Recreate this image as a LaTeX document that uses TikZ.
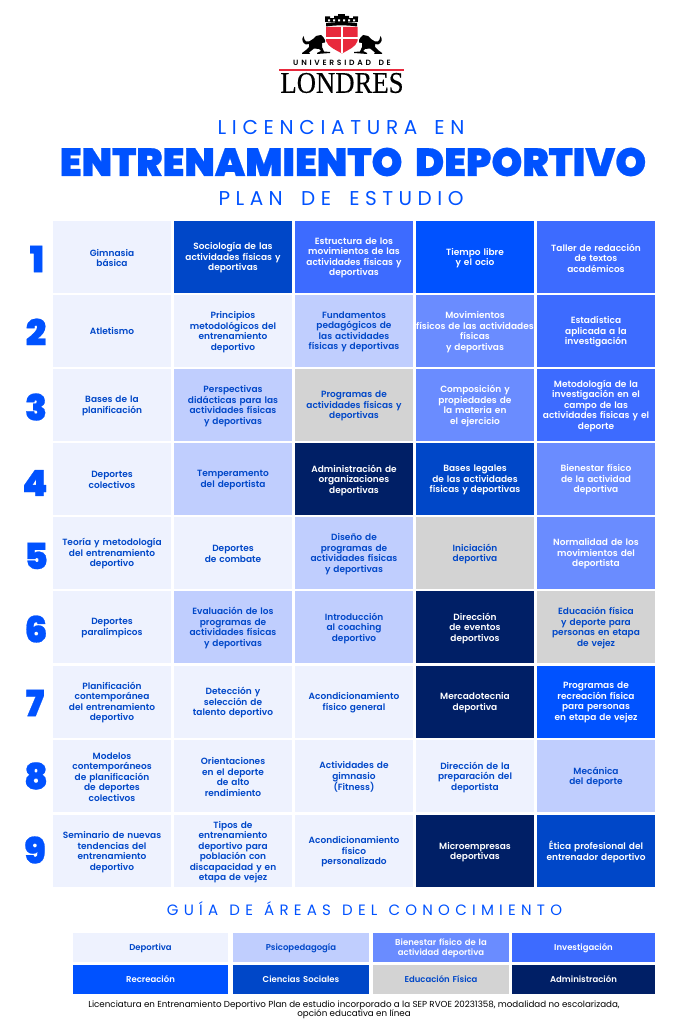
\documentclass[tikz,border=0pt]{standalone}
\usepackage{fontspec}
\setmainfont{Poppins}
\newfontfamily\popblack[FakeBold=0.6]{Poppins Black}
\newfontfamily\popsemi{Poppins SemiBold}
\newfontfamily\popmed{Poppins Medium}
\newfontfamily\lonserif[FakeBold=0.4]{Liberation Serif}
\definecolor{cLight}{HTML}{EEF2FE}
\definecolor{cPsico}{HTML}{C0CEFE}
\definecolor{cBien}{HTML}{6A8CFF}
\definecolor{cInv}{HTML}{3D6BFF}
\definecolor{cRec}{HTML}{0052FF}
\definecolor{cSoc}{HTML}{0047C8}
\definecolor{cAdm}{HTML}{001F66}
\definecolor{cGray}{HTML}{D3D3D3}
\definecolor{cRed}{HTML}{E8293C}
\tikzset{
 cellbase/.style={inner sep=0pt,align=center,minimum width=118pt,minimum height=72pt,text width=118pt,font=\popsemi\fontsize{9.0}{10.5}\selectfont,execute at end node={\par\vspace{-2pt}}},
 deplight/.style={cellbase,fill=cLight,text=cSoc},
 psico/.style={cellbase,fill=cPsico,text=cSoc},
 bien/.style={cellbase,fill=cBien,text=white},
 inv/.style={cellbase,fill=cInv,text=white},
 rec/.style={cellbase,fill=cRec,text=white},
 soc/.style={cellbase,fill=cSoc,text=white},
 adm/.style={cellbase,fill=cAdm,text=white},
 gris/.style={cellbase,fill=cGray,text=cSoc},
 rownum/.style={text=cRec,font=\popblack\fontsize{36}{36}\selectfont,inner sep=0pt},
 legw/.style={minimum height=29pt,font=\popsemi\fontsize{8.5}{10}\selectfont},
 legA/.style={legw,minimum width=155pt,text width=155pt},
 legB/.style={legw,minimum width=136pt,text width=136pt},
 legC/.style={legw,minimum width=143pt,text width=143pt},
}
\newcommand{\spaced}[2]{\addfontfeatures{LetterSpace=#1}#2}
\newcommand{\lionshape}{%
 \fill[black] (303.5,36) .. controls (301.5,39) and (302,43) .. (306,44.5) -- (309,44)
  -- (309,47) -- (306,50) -- (302,53) -- (302,54) -- (310,54) -- (309,52.5) -- (314,48.5)
  -- (319,49) -- (321,51) -- (317,53) -- (317,54) -- (330,53) -- (330,52) -- (324,51.5) -- (322,47)
  -- (322,43) -- (325,42.5) -- (325,40) -- (323.5,37.5) -- (321,35) -- (316,36) -- (313,39) -- (309,41.5) -- (306,41.5) -- (304.5,39.5) -- cycle;
}
\begin{document}
\begin{tikzpicture}[x=1pt,y=-1pt]
\useasboundingbox[fill=white] (0,0) rectangle (683,1024);
% logo
\fill[cRed] (326,27) -- (357.5,27) -- (357.5,41) .. controls (356,47) and (348,50) .. (342,53.5) .. controls (336,50) and (328,47) .. (326,41) -- cycle;
\fill[white] (340.8,27) rectangle (343.2,53.5);
\fill[white] (326,37) rectangle (357.5,39.2);
\fill[black] (338,14.5) rectangle (345,18);
\fill[black] (325,16.5) rectangle (330,18.5) (334,16) rectangle (349,18.5) (353,16.5) rectangle (358,18.5);
\fill[black] (325,18.5) rectangle (358,22.5);
\fill[white] (328,19.5) rectangle (330,21.5) (333,19.5) rectangle (335,21.5) (338,19.5) rectangle (340,21.5) (343,19.5) rectangle (345,21.5) (348,19.5) rectangle (350,21.5) (353,19.5) rectangle (355,21.5);
\fill[black] (326,23) .. controls (335,21.8) and (348,21.8) .. (357,23) -- (357,26.5) .. controls (348,25) and (335,25) .. (326,26.5) -- cycle;
\lionshape
\begin{scope}[xshift=684pt,x=-1pt]
\lionshape
\end{scope}
\node (uni) at (342,62.5) [inner sep=0pt,font=\popsemi\fontsize{7.6}{8}\selectfont] {\spaced{36}{UNIVERSIDAD \hspace{3pt}DE}};
\fill[cRed] (279,68.7) rectangle (404,70.7);
\node (lon) at (342,83) [inner sep=0pt,font=\lonserif\fontsize{30}{30}\selectfont,xscale=0.89] {LONDRES};
% titles
\node (t1) at (341,128) [inner sep=0pt,text=cRec,font=\fontsize{20}{20}\selectfont] {\spaced{28.5}{LICENCIATURA \hspace{6pt}EN}};
\node (t2) at (353,162) [inner sep=0pt,text=cRec,font=\popblack\fontsize{39.2}{39.2}\selectfont] {ENTRENAMIENTO \hspace{6pt}DEPORTIVO};
\node (t3) at (341,199) [inner sep=0pt,text=cRec,font=\fontsize{20}{20}\selectfont] {\spaced{27.5}{PLAN \hspace{7.5pt}DE \hspace{7.5pt}ESTUDIO}};
% row numbers
\node[rownum] (n1) at (37,259) {1};
\node[rownum] (n2) at (36,332) {2};
\node[rownum] (n3) at (36,407) {3};
\node[rownum] (n4) at (35,483) {4};
\node[rownum] (n5) at (36,556) {5};
\node[rownum] (n6) at (36,629) {6};
\node[rownum] (n7) at (35,703) {7};
\node[rownum] (n8) at (36,776) {8};
\node[rownum] (n9) at (35,850) {9};
% row 1
\node[deplight] (a1) at (112,257) {Gimnasia\\básica};
\node[soc] (b1) at (233,257) {Sociología de las\\actividades físicas y\\deportivas};
\node[inv] (c1) at (354,257) {Estructura de los\\movimientos de las\\actividades físicas y\\deportivas};
\node[rec] (d1) at (475,257) {Tiempo libre\\y el ocio};
\node[inv] (e1) at (596,257) {Taller de redacción\\de textos\\académicos};
% row 2
\node[deplight] (a2) at (112,331) {Atletismo};
\node[deplight] (b2) at (233,331) {Principios\\metodológicos del\\entrenamiento\\deportivo};
\node[psico] (c2) at (354,331) {Fundamentos\\pedagógicos de\\las actividades\\físicas y deportivas};
\node[bien] (d2) at (475,331) {Movimientos\\\makebox[0pt][c]{físicos de las actividades}\\físicas\\y deportivas};
\node[inv] (e2) at (596,331) {Estadística\\aplicada a la\\investigación};
% row 3
\node[deplight] (a3) at (112,405) {Bases de la\\planificación};
\node[psico] (b3) at (233,405) {Perspectivas\\didácticas para las\\actividades físicas\\y deportivas};
\node[gris] (c3) at (354,405) {Programas de\\actividades físicas y\\deportivas};
\node[bien] (d3) at (475,405) {Composición y\\propiedades de\\la materia en\\el ejercicio};
\node[inv] (e3) at (596,405) {Metodología de la\\investigación en el\\campo de las\\actividades físicas y el\\deporte};
% row 4
\node[deplight] (a4) at (112,479) {Deportes\\colectivos};
\node[psico] (b4) at (233,479) {Temperamento\\del deportista};
\node[adm] (c4) at (354,479) {Administración de\\organizaciones\\deportivas};
\node[soc] (d4) at (475,479) {Bases legales\\de las actividades\\físicas y deportivas};
\node[bien] (e4) at (596,479) {Bienestar físico\\de la actividad\\deportiva};
% row 5
\node[deplight] (a5) at (112,553) {Teoría y metodología\\del entrenamiento\\deportivo};
\node[deplight] (b5) at (233,553) {Deportes\\de combate};
\node[psico] (c5) at (354,553) {Diseño de\\programas de\\actividades físicas\\y deportivas};
\node[gris] (d5) at (475,553) {Iniciación\\deportiva};
\node[bien] (e5) at (596,553) {Normalidad de los\\movimientos del\\deportista};
% row 6
\node[deplight] (a6) at (112,627) {Deportes\\paralímpicos};
\node[psico] (b6) at (233,627) {Evaluación de los\\programas de\\actividades físicas\\y deportivas};
\node[psico] (c6) at (354,627) {Introducción\\al coaching\\deportivo};
\node[adm] (d6) at (475,627) {Dirección\\de eventos\\deportivos};
\node[gris] (e6) at (596,627) {Educación física\\y deporte para\\personas en etapa\\de vejez};
% row 7
\node[deplight] (a7) at (112,701.5) {Planificación\\contemporánea\\del entrenamiento\\deportivo};
\node[deplight] (b7) at (233,701.5) {Detección y\\selección de\\talento deportivo};
\node[deplight] (c7) at (354,701.5) {Acondicionamiento\\físico general};
\node[adm] (d7) at (475,701.5) {Mercadotecnia\\deportiva};
\node[rec] (e7) at (596,701.5) {Programas de\\recreación física\\para personas\\en etapa de vejez};
% row 8
\node[deplight] (a8) at (112,776) {Modelos\\contemporáneos\\de planificación\\de deportes\\colectivos};
\node[deplight] (b8) at (233,776) {Orientaciones\\en el deporte\\de alto\\rendimiento};
\node[deplight] (c8) at (354,776) {Actividades de\\gimnasio\\(Fitness)};
\node[deplight] (d8) at (475,776) {Dirección de la\\preparación del\\deportista};
\node[psico] (e8) at (596,776) {Mecánica\\del deporte};
% row 9
\node[deplight] (a9) at (112,851) {Seminario de nuevas\\tendencias del\\entrenamiento\\deportivo};
\node[deplight] (b9) at (233,851) {Tipos de\\entrenamiento\\deportivo para\\población con\\discapacidad y en\\etapa de vejez};
\node[deplight] (c9) at (354,851) {Acondicionamiento\\físico\\personalizado};
\node[adm] (d9) at (475,851) {Microempresas\\deportivas};
\node[soc] (e9) at (596,851) {Ética profesional del\\entrenador deportivo};
% legend
\node (g) at (364.5,909) [inner sep=0pt,text=cRec,font=\fontsize{15}{15}\selectfont] {\spaced{35}{GUÍA \hspace{1.9pt}DE \hspace{1.9pt}ÁREAS \hspace{1.9pt}DEL \hspace{1.9pt}CONOCIMIENTO}};
\node[deplight,legA] (l1) at (150.5,947) {Deportiva};
\node[psico,legB] (l2) at (301,947) {Psicopedagogía};
\node[bien,legB] (l3) at (441,947) {Bienestar físico de la\\actividad deportiva};
\node[inv,legC] (l4) at (583.5,947) {Investigación};
\node[rec,legA] (l5) at (150.5,979) {Recreación};
\node[soc,legB] (l6) at (301,979) {Ciencias Sociales};
\node[gris,legB] (l7) at (441,979) {Educación Física};
\node[adm,legC] (l8) at (583.5,979) {Administración};
% footer
\node (f) at (354,1009.5) [inner sep=0pt,align=center,text=black,font=\fontsize{8.72}{9.2}\selectfont] {Licenciatura en Entrenamiento Deportivo Plan de estudio incorporado a la SEP RVOE 20231358, modalidad no escolarizada,\\opción educativa en línea};
\end{tikzpicture}
\end{document}
